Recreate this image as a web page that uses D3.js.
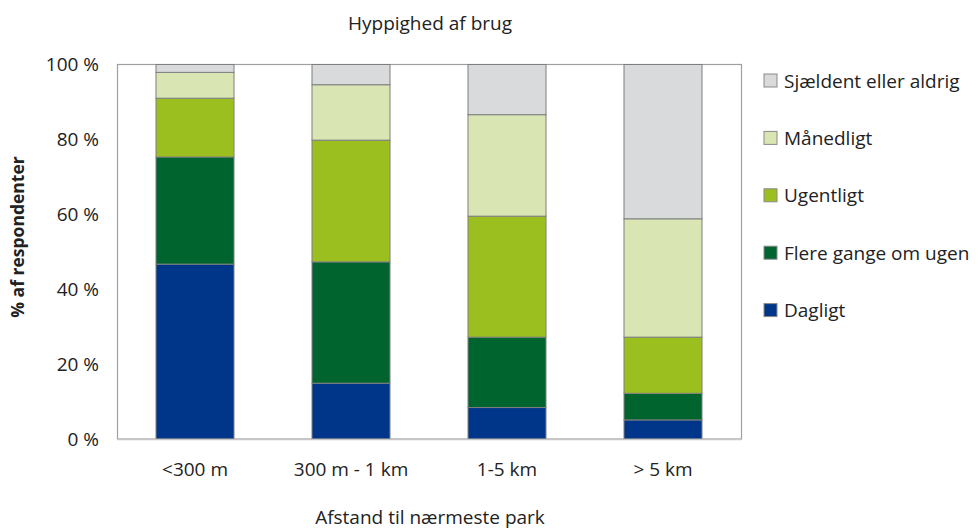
<!DOCTYPE html>
<html>
<head>
<meta charset="utf-8">
<script src="https://cdn.jsdelivr.net/npm/d3@7"></script>
<style>
  html, body { margin: 0; padding: 0; background: #fff; }
  svg text { font-family: "Open Sans", "Noto Sans", sans-serif; fill: #222; }
</style>
</head>
<body>
<svg id="chart" width="979" height="529"></svg>
<script>
const categories = ["<300 m", "300 m - 1 km", "1-5 km", "> 5 km"];
const seriesNames = ["Dagligt", "Flere gange om ugen", "Ugentligt", "Månedligt", "Sjældent eller aldrig"];
const dagligt = [46.7, 14.9, 8.4, 5.1];
const flereGange = [28.6, 32.4, 18.8, 7.1];
const ugentligt = [15.7, 32.5, 32.3, 15.0];
const maanedligt = [6.9, 14.8, 27.1, 31.6];
const sjaeldent = [2.1, 5.4, 13.4, 41.2];
const yTicks = [0, 20, 40, 60, 80, 100];
const colors = ["#003689", "#00642e", "#9bbf1e", "#d9e6b3", "#d9dadc"];

const seriesValues = [dagligt, flereGange, ugentligt, maanedligt, sjaeldent];
const rows = categories.map((c, i) => {
  const r = { cat: c };
  seriesNames.forEach((s, j) => r[s] = seriesValues[j][i]);
  return r;
});

const FS = "19px";
const svg = d3.select("#chart");
const m = { left: 117, right: 741, top: 64.5, bottom: 439 };

const x = d3.scaleBand().domain(categories).range([m.left, m.right]).paddingInner(0.5).paddingOuter(0.25);
const y = d3.scaleLinear().domain([0, 100]).range([m.bottom, m.top]);

// frame
svg.append("rect")
  .attr("x", m.left + 0.5).attr("y", m.top)
  .attr("width", m.right - m.left).attr("height", m.bottom - m.top)
  .attr("fill", "none").attr("stroke", "#a0a0a0").attr("stroke-width", 1.2);

const stack = d3.stack().keys(seriesNames)(rows);
svg.append("g").selectAll("g").data(stack).join("g")
  .attr("fill", (d, i) => colors[i])
  .selectAll("rect").data(d => d).join("rect")
  .attr("x", d => x(d.data.cat))
  .attr("width", x.bandwidth())
  .attr("y", d => y(d[1]))
  .attr("height", d => y(d[0]) - y(d[1]))
  .attr("stroke", "#7f7f7f").attr("stroke-width", 1);

// bottom axis line
svg.append("line")
  .attr("x1", m.left).attr("x2", m.right + 0.5)
  .attr("y1", m.bottom + 0.5).attr("y2", m.bottom + 0.5)
  .attr("stroke", "#c6c6c6").attr("stroke-width", 1.5);

// y axis
const yAxis = svg.append("g").attr("transform", `translate(${m.left},0)`)
  .call(d3.axisLeft(y).tickValues(yTicks).tickSize(0).tickPadding(18).tickFormat(d => d + " %"));
yAxis.select(".domain").remove();
yAxis.selectAll("text").style("font-size", FS).style("font-family", "'Open Sans', sans-serif").attr("fill", "#222");

// x axis
const xAxis = svg.append("g").attr("transform", `translate(0,${m.bottom})`)
  .call(d3.axisBottom(x).tickSize(0).tickPadding(24));
xAxis.select(".domain").remove();
xAxis.selectAll("text").style("font-size", FS).style("font-family", "'Open Sans', sans-serif").attr("fill", "#222");

// titles
svg.append("text").attr("x", 430).attr("y", 23).attr("dy", "0.35em").attr("text-anchor", "middle")
  .style("font-size", FS).text("Hyppighed af brug");
svg.append("text").attr("x", 430).attr("y", 517).attr("dy", "0.35em").attr("text-anchor", "middle")
  .style("font-size", FS).text("Afstand til nærmeste park");
svg.append("text").attr("transform", "translate(24,237) rotate(-90)").attr("text-anchor", "middle")
  .style("font-size", "17.5px").style("font-weight", "bold").text("% af respondenter");

// legend (top to bottom reversed order)
const legendItems = seriesNames.map((s, i) => ({ name: s, color: colors[i] })).reverse();
const lg = svg.append("g").selectAll("g").data(legendItems).join("g")
  .attr("transform", (d, i) => `translate(764,${81 + i * 57.4})`);
lg.append("rect").attr("x", 0).attr("y", -7).attr("width", 13).attr("height", 13)
  .attr("fill", d => d.color).attr("stroke", "#8a8a8a").attr("stroke-width", 1);
lg.append("text").attr("x", 20).attr("y", 0).attr("dy", "0.35em")
  .style("font-size", FS).text(d => d.name);
</script>
</body>
</html>
